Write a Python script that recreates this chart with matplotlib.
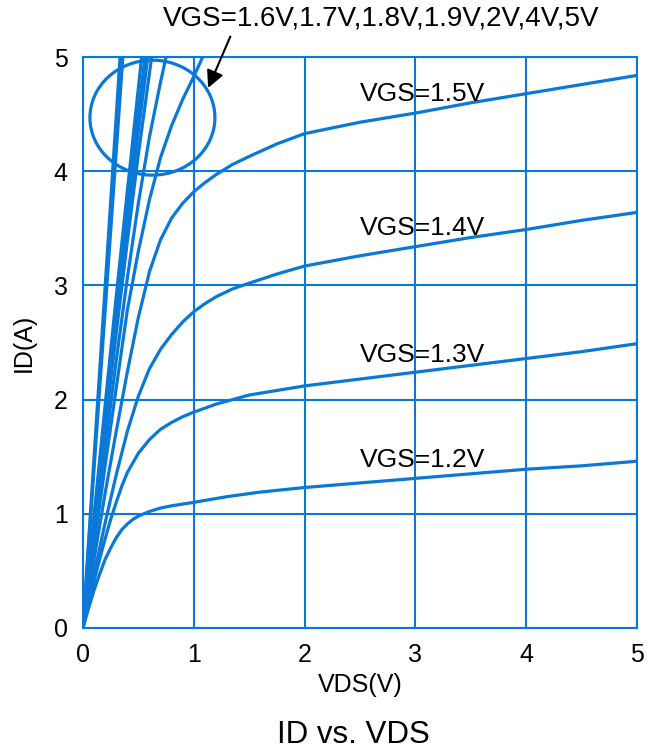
import matplotlib
matplotlib.use('Agg')
import matplotlib.pyplot as plt
from matplotlib.patches import Ellipse

BLUE = '#0A78D7'

# output characteristics, (VDS, ID) points per gate voltage
VDS_12 = [0, 0.05, 0.1, 0.15, 0.2, 0.25, 0.3, 0.35, 0.4, 0.45, 0.5, 0.6, 0.7, 0.8, 1.0, 1.3,
          1.6, 2.0, 2.5, 3.0, 3.5, 4.0, 4.5, 5.0]
ID_12 = [0, 0.17, 0.33, 0.47, 0.6, 0.7, 0.79, 0.86, 0.91, 0.95, 0.98, 1.02, 1.05, 1.07, 1.1, 1.15,
         1.19, 1.23, 1.27, 1.31, 1.35, 1.39, 1.42, 1.46]

VDS_13 = [0, 0.05, 0.1, 0.15, 0.2, 0.25, 0.3, 0.35, 0.4, 0.5, 0.6, 0.7, 0.8, 0.9, 1.0, 1.2,
          1.5, 1.75, 2.0, 2.5, 3.0, 3.5, 4.0, 4.5, 5.0]
ID_13 = [0, 0.21, 0.41, 0.6, 0.78, 0.95, 1.1, 1.24, 1.36, 1.53, 1.65, 1.74, 1.8, 1.85, 1.89, 1.96,
         2.04, 2.08, 2.12, 2.18, 2.24, 2.3, 2.36, 2.42, 2.49]

VDS_14 = [0, 0.1, 0.2, 0.3, 0.4, 0.5, 0.6, 0.7, 0.8, 0.9, 1.0, 1.1, 1.2, 1.35, 1.5, 1.75,
          2.0, 2.5, 3.0, 3.5, 4.0, 4.5, 5.0]
ID_14 = [0, 0.47, 0.92, 1.34, 1.72, 2.03, 2.27, 2.44, 2.57, 2.68, 2.77, 2.84, 2.9, 2.97, 3.02, 3.1,
         3.17, 3.26, 3.34, 3.42, 3.49, 3.57, 3.64]

VDS_15 = [0, 0.1, 0.2, 0.3, 0.4, 0.5, 0.6, 0.7, 0.8, 0.9, 1.0, 1.1, 1.2, 1.35, 1.5, 1.75,
          2.0, 2.5, 3.0, 3.5, 4.0, 4.5, 5.0]
ID_15 = [0, 0.6, 1.18, 1.72, 2.24, 2.72, 3.12, 3.4, 3.59, 3.72, 3.82, 3.9, 3.97, 4.06, 4.13, 4.24,
         4.33, 4.43, 4.51, 4.6, 4.68, 4.76, 4.84]

VDS_16 = [0, 0.1, 0.2, 0.3, 0.4, 0.5, 0.6, 0.7, 0.8, 0.9, 1.0, 1.08]
ID_16 = [0, 0.72, 1.42, 2.1, 2.78, 3.3, 3.75, 4.12, 4.4, 4.63, 4.83, 5.0]

VDS_17 = [0, 0.1, 0.2, 0.3, 0.4, 0.5, 0.6, 0.7, 0.75]
ID_17 = [0, 0.8, 1.58, 2.34, 3.06, 3.72, 4.3, 4.78, 5.0]

VDS_18 = [0, 0.1, 0.2, 0.3, 0.4, 0.5, 0.62]
ID_18 = [0, 0.88, 1.75, 2.58, 3.38, 4.15, 5.0]

VDS_19 = [0, 0.1, 0.2, 0.3, 0.4, 0.5, 0.585]
ID_19 = [0, 0.92, 1.82, 2.7, 3.55, 4.35, 5.0]

VDS_20 = [0, 0.1, 0.2, 0.3, 0.4, 0.56]
ID_20 = [0, 0.95, 1.88, 2.8, 3.7, 5.0]

VDS_30 = [0, 0.1, 0.2, 0.3, 0.4, 0.53]
ID_30 = [0, 0.98, 1.95, 2.9, 3.82, 5.0]

VDS_40 = [0, 0.36]
ID_40 = [0, 5.0]

VDS_50 = [0, 0.335]
ID_50 = [0, 5.0]

CURVES = [(VDS_12, ID_12), (VDS_13, ID_13), (VDS_14, ID_14), (VDS_15, ID_15),
          (VDS_16, ID_16), (VDS_17, ID_17), (VDS_18, ID_18), (VDS_19, ID_19),
          (VDS_20, ID_20), (VDS_30, ID_30), (VDS_40, ID_40), (VDS_50, ID_50)]

# curve labels: text and anchor (VDS, ID)
LABELS = ['VGS=1.5V', 'VGS=1.4V', 'VGS=1.3V', 'VGS=1.2V']
LABEL_X = [2.5, 2.5, 2.5, 2.5]
LABEL_Y = [4.68, 3.5, 2.39, 1.47]

STEEP_LABEL = 'VGS=1.6V,1.7V,1.8V,1.9V,2V,4V,5V'

TICKS = [0, 1, 2, 3, 4, 5]


def id_vs_vds():
    plt.rcParams['font.family'] = ['Liberation Sans', 'DejaVu Sans']

    fig = plt.figure(figsize=(6.48, 7.52), dpi=100)
    ax = fig.add_axes([0.128, 0.165, 0.855, 0.759])

    for vds, i_d in CURVES:
        ax.plot(vds, i_d, color=BLUE, lw=2.3, solid_capstyle='round',
                solid_joinstyle='round', zorder=3)

    ax.set_xlim(0, 5)
    ax.set_ylim(0, 5)
    ax.set_xticks(TICKS)
    ax.set_yticks(TICKS)
    ax.grid(True, color=BLUE, lw=1.5)
    ax.set_axisbelow(True)
    for spine in ax.spines.values():
        spine.set_color(BLUE)
        spine.set_linewidth(1.5)
    ax.tick_params(length=0, labelsize=18, pad=11)

    ax.set_xlabel('VDS(V)', fontsize=18, labelpad=4)
    ax.set_ylabel('ID(A)', fontsize=18, labelpad=13)

    for text, x, y in zip(LABELS, LABEL_X, LABEL_Y):
        ax.text(x, y, text, fontsize=19, va='center', ha='left', zorder=4)

    # circle around the steep group and its note
    ax.add_patch(Ellipse((0.627, 4.47), 1.128, 1.007, fill=False,
                         edgecolor=BLUE, lw=2.3, zorder=3))
    ax.text(0.72, 5.34, STEEP_LABEL, fontsize=20, va='center', ha='left',
            clip_on=False)
    ax.annotate('', xy=(1.13, 4.73), xytext=(1.33, 5.18),
                arrowprops=dict(arrowstyle='-|>', color='black', lw=1.5,
                                mutation_scale=26, shrinkA=0, shrinkB=0),
                annotation_clip=False)

    fig.text(0.545, 0.023, 'ID vs. VDS', fontsize=22.5, ha='center', va='center')

    fig.savefig('out.png', dpi=100)


if __name__ == '__main__':
    id_vs_vds()
